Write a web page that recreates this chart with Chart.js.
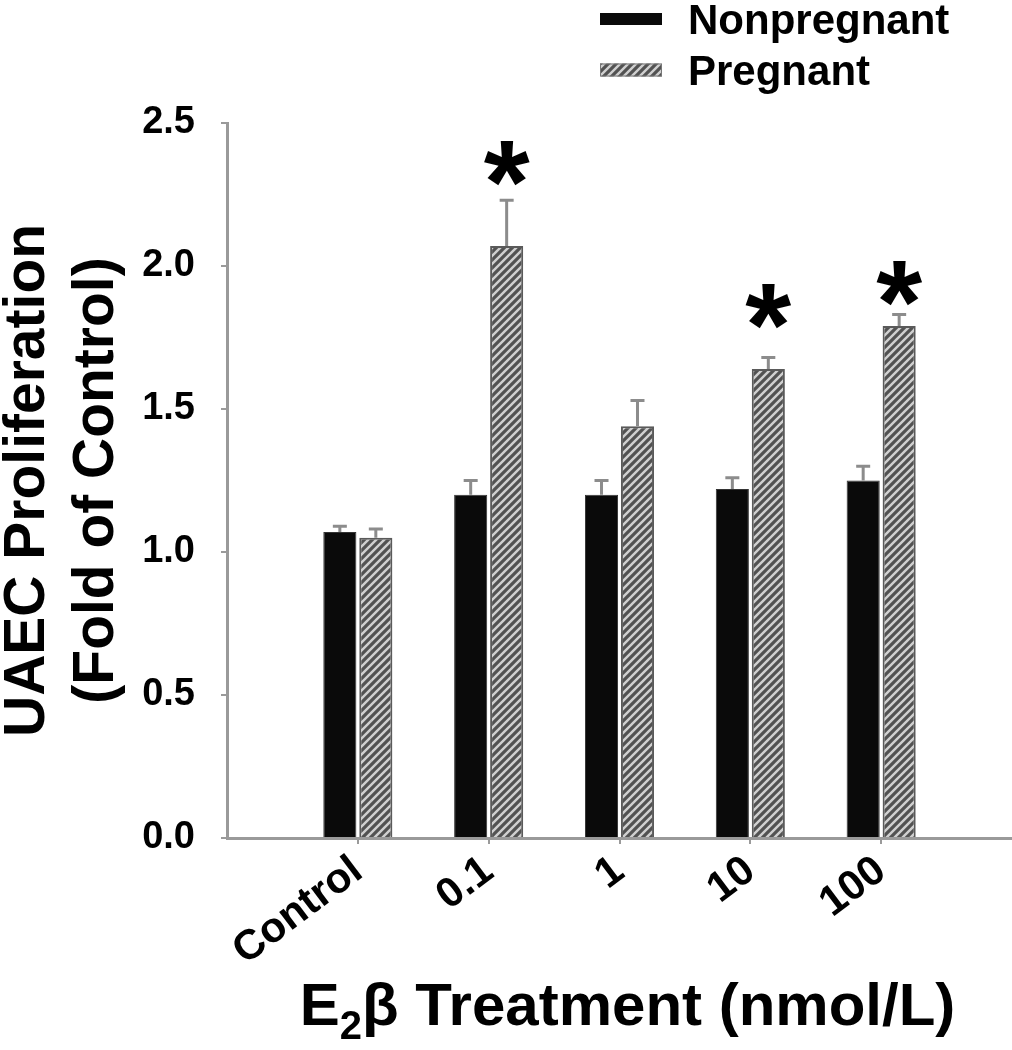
<!DOCTYPE html>
<html>
<head>
<meta charset="utf-8">
<title>UAEC Proliferation</title>
<script src="https://cdn.jsdelivr.net/npm/chart.js@4.4.1/dist/chart.umd.min.js"></script>
<style>
  html, body { margin: 0; padding: 0; background: #fff; }
  #wrap { width: 1012px; height: 1050px; }
</style>
</head>
<body>
<div id="wrap"><canvas id="uaecChart" width="1012" height="1050"></canvas></div>
<script>
// Data (fold of control)
const doses = ['Control', '0.1', '1', '10', '100'];
const nonpregnant = [1.07, 1.20, 1.20, 1.22, 1.25];
const nonpregnantErr = [0.02, 0.05, 0.05, 0.04, 0.05];
const pregnant = [1.05, 2.07, 1.44, 1.64, 1.79];
const pregnantErr = [0.03, 0.16, 0.09, 0.04, 0.04];
const sigMarks = [null, 2.36, null, 1.86, 1.94];   // asterisk centres
const yTicks = [0, 0.5, 1.0, 1.5, 2.0, 2.5];

const FONT = '"Liberation Sans", Arial, Helvetica, sans-serif';
const AXIS_GREY = '#9a9a9a';

const canvas = document.getElementById('uaecChart');
const ctx = canvas.getContext('2d');

// diagonal hatch for the pregnant bars
function makeHatch() {
  const n = 8;
  const c = document.createElement('canvas');
  c.width = n; c.height = n;
  const g = c.getContext('2d');
  g.fillStyle = '#d0d0d0';
  g.fillRect(0, 0, n, n);
  g.strokeStyle = '#525252';
  g.lineWidth = 3.2;
  g.beginPath();
  g.moveTo(0, n); g.lineTo(n, 0);
  g.moveTo(-n / 2, n / 2); g.lineTo(n / 2, -n / 2);
  g.moveTo(n / 2, n * 1.5); g.lineTo(n * 1.5, n / 2);
  g.stroke();
  return ctx.createPattern(c, 'repeat');
}
const hatch = makeHatch();

const toPoints = (arr) => arr.map((v, i) => ({ x: i + 1, y: v }));

// error bars (upper only) + significance asterisks
const errorBarPlugin = {
  id: 'errorBars',
  afterDatasetsDraw(chart) {
    const c = chart.ctx;
    const y = chart.scales.y;
    const errs = [nonpregnantErr, pregnantErr];
    const vals = [nonpregnant, pregnant];
    c.save();
    c.strokeStyle = '#8c8c8c';
    c.lineWidth = 3;
    errs.forEach((err, d) => {
      const meta = chart.getDatasetMeta(d);
      meta.data.forEach((bar, i) => {
        const top = y.getPixelForValue(vals[d][i] + err[i]);
        const base = y.getPixelForValue(vals[d][i]);
        c.beginPath();
        c.moveTo(bar.x, base);
        c.lineTo(bar.x, top);
        c.moveTo(bar.x - 7, top);
        c.lineTo(bar.x + 7, top);
        c.stroke();
      });
    });
    // asterisks
    c.fillStyle = '#000';
    c.font = 'bold 118px ' + FONT;
    c.textAlign = 'center';
    c.textBaseline = 'alphabetic';
    const m = c.measureText('*');
    const shift = (m.actualBoundingBoxAscent - m.actualBoundingBoxDescent) / 2;
    const pMeta = chart.getDatasetMeta(1);
    sigMarks.forEach((v, i) => {
      if (v == null) return;
      c.fillText('*', pMeta.data[i].x, y.getPixelForValue(v) + shift);
    });
    c.restore();
  }
};

// legend block in the top right corner + x title with a real subscript
const legendPlugin = {
  id: 'cornerLegend',
  afterDraw(chart) {
    const c = chart.ctx;
    const area = chart.chartArea;
    const x0 = area.left + 373;
    const rows = [19, 70];
    c.save();
    c.font = 'bold 42px ' + FONT;
    c.textBaseline = 'alphabetic';
    c.textAlign = 'left';
    chart.data.datasets.forEach((ds, i) => {
      const cy = rows[i];
      const h = i === 0 ? 12 : 13;
      c.fillStyle = ds.backgroundColor;
      c.fillRect(x0, cy - h / 2, 62, h);
      if (i === 1) {
        c.strokeStyle = '#777';
        c.lineWidth = 1;
        c.strokeRect(x0 + 0.5, cy - h / 2 + 0.5, 61, h - 1);
      }
      c.fillStyle = '#000';
      c.fillText(ds.label, x0 + 88, cy + 15);
    });

    // "E2β Treatment (nmol/L)" with the 2 set as subscript
    const big = 'bold 60px ' + FONT;
    const small = 'bold 40px ' + FONT;
    const parts = [['E', big, 0], ['2', small, 14], ['\u03B2 Treatment (nmol/L)', big, 0]];
    let total = 0;
    parts.forEach((p) => { c.font = p[1]; total += c.measureText(p[0]).width; });
    let x = (area.left + area.right) / 2 + 8 - total / 2;
    const base = 1025;
    parts.forEach((p) => {
      c.font = p[1];
      c.fillText(p[0], x, base + p[2]);
      x += c.measureText(p[0]).width;
    });
    c.restore();
  }
};

new Chart(ctx, {
  type: 'bar',
  data: {
    datasets: [
      {
        label: 'Nonpregnant',
        data: toPoints(nonpregnant),
        backgroundColor: '#0a0a0a',
        borderColor: '#333',
        borderWidth: 1,
        barPercentage: 0.92,
        categoryPercentage: 0.55
      },
      {
        label: 'Pregnant',
        data: toPoints(pregnant),
        backgroundColor: hatch,
        borderColor: '#5a5a5a',
        borderWidth: 2,
        barPercentage: 0.92,
        categoryPercentage: 0.55
      }
    ]
  },
  options: {
    responsive: false,
    animation: false,
    devicePixelRatio: 1,
    layout: { padding: { top: 123, right: 0, left: 0, bottom: 0 } },
    plugins: {
      legend: { display: false },
      tooltip: { enabled: false }
    },
    scales: {
      x: {
        type: 'linear',
        min: 0,
        max: 6,
        offset: false,
        afterBuildTicks: (s) => { s.ticks = doses.map((d, i) => ({ value: i + 1 })); },
        afterFit: (s) => { s.height = 212; },
        grid: { offset: false, drawOnChartArea: false, drawTicks: true, tickLength: 6, color: AXIS_GREY, lineWidth: 2 },
        border: { display: true, color: AXIS_GREY, width: 3 },
        ticks: {
          color: '#000',
          font: { family: FONT, size: 42, weight: 'bold' },
          minRotation: 37,
          maxRotation: 37,
          padding: 2,
          callback: (v) => doses[v - 1]
        },
        title: { display: false }
      },
      y: {
        min: 0,
        max: 2.5,
        afterBuildTicks: (s) => { s.ticks = yTicks.map((v) => ({ value: v })); },
        afterFit: (s) => { s.width = 227; },
        grid: { drawOnChartArea: false, drawTicks: true, tickLength: 6, color: AXIS_GREY, lineWidth: 2 },
        border: { display: true, color: AXIS_GREY, width: 3 },
        ticks: {
          color: '#000',
          font: { family: FONT, size: 38, weight: 'bold' },
          padding: 26,
          callback: (v) => v.toFixed(1)
        },
        title: {
          display: true,
          text: ['UAEC Proliferation', '(Fold of Control)'],
          color: '#000',
          font: { family: FONT, size: 57, weight: 'bold', lineHeight: 1.21 },
          padding: { top: -6, bottom: 0 }
        }
      }
    }
  },
  plugins: [errorBarPlugin, legendPlugin]
});
</script>
</body>
</html>
